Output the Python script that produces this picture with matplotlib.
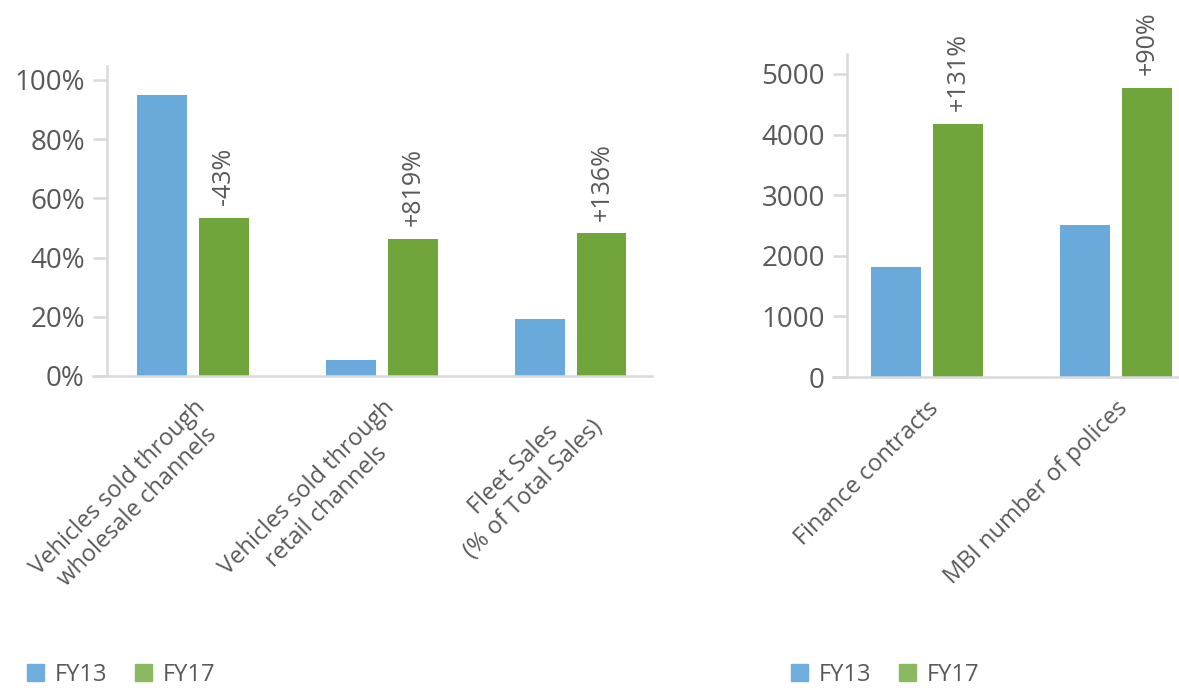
import matplotlib
matplotlib.use('Agg')
import matplotlib.pyplot as plt
from matplotlib.patches import Patch
from matplotlib.ticker import FuncFormatter

# left chart: share of sales (%)
cats_left = ['Vehicles sold through\nwholesale channels',
             'Vehicles sold through\nretail channels',
             'Fleet Sales\n(% of Total Sales)']
fy13_left = [94.8, 5.4, 19.3]
fy17_left = [53.4, 46.4, 48.2]
chg_left = ['-43%', '+819%', '+136%']

# right chart: counts
cats_right = ['Finance contracts', 'MBI number of polices']
fy13_right = [1815, 2508]
fy17_right = [4175, 4769]
chg_right = ['+131%', '+90%']

BLUE = '#6AAADB'
GREEN = '#6FA53B'
TXT = '#595959'
GRID = '#D9D9D9'

plt.rcParams['font.family'] = ['Open Sans', 'DejaVu Sans']

fig = plt.figure(figsize=(11.79, 6.90), dpi=100)
W, H = 1179, 690


def style(ax, spine_x):
    for s in ['top', 'right']:
        ax.spines[s].set_visible(False)
    ax.spines['left'].set_position(('data', spine_x))
    for s in ['left', 'bottom']:
        ax.spines[s].set_color(GRID)
        ax.spines[s].set_linewidth(1.8)
    ax.tick_params(axis='y', length=10, width=1.8, color=GRID, labelsize=20,
                   labelcolor=TXT, pad=6)
    ax.tick_params(axis='x', length=0, labelsize=17, labelcolor=TXT, pad=14)


def draw(ax, cats, a, b, chg):
    x = list(range(len(cats)))
    w = 0.26
    off = 0.164
    ax.bar([i - off for i in x], a, w, color=BLUE)
    bars = ax.bar([i + off for i in x], b, w, color=GREEN)
    for r, t in zip(bars, chg):
        ax.annotate(t, (r.get_x() + r.get_width() / 2, r.get_height()),
                    xytext=(0, 9), textcoords='offset points', rotation=90,
                    ha='center', va='bottom', fontsize=18, color=TXT)
    ax.set_xticks(x)
    ax.set_xticklabels(cats, rotation=45, ha='right', rotation_mode='anchor',
                       multialignment='center')


# left axes
ax1 = fig.add_axes([93 / W, 1 - 376 / H, (652 - 93) / W, (376 - 66) / H])
draw(ax1, cats_left, fy13_left, fy17_left, chg_left)
ax1.set_xlim(-0.529, 2.429)
ax1.set_ylim(0, 104.7)
ax1.set_yticks([0, 20, 40, 60, 80, 100])
ax1.yaxis.set_major_formatter(FuncFormatter(lambda v, p: '%d%%' % v))
style(ax1, -0.455)

# right axes
ax2 = fig.add_axes([833 / W, 1 - 377 / H, (1179 - 833) / W, (377 - 54) / H])
draw(ax2, cats_right, fy13_right, fy17_right, chg_right)
ax2.set_xlim(-0.497, 1.333)
ax2.set_ylim(0, 5330)
ax2.set_yticks([0, 1000, 2000, 3000, 4000, 5000])
style(ax2, -0.423)

handles = [Patch(color='#6FAEDC', label='FY13'), Patch(color='#8AB962', label='FY17')]
for lx in [27 / W, 791 / W]:
    fig.legend(handles=handles, loc='center left', bbox_to_anchor=(lx, 1 - 675 / H),
               ncol=2, frameon=False, fontsize=17, labelcolor=TXT,
               borderpad=0, borderaxespad=0,
               handlelength=0.72, handleheight=0.72, handletextpad=0.47,
               columnspacing=1.14)

fig.savefig('out.png', dpi=100)
